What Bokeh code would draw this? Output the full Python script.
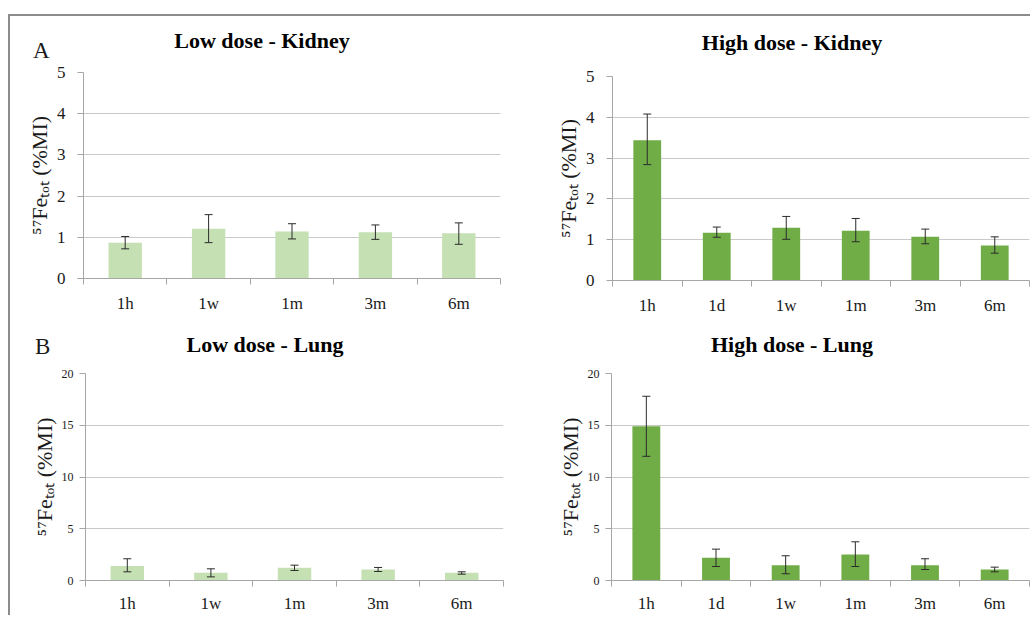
import math
from bokeh.plotting import figure
from bokeh.models import (Range1d, FixedTicker, CustomJSTickFormatter, Whisker,
                          TeeHead, ColumnDataSource, Spacer, Div)
from bokeh.layouts import column, row
from bokeh.embed import file_html
from bokeh.resources import INLINE

FONT = "Liberation Serif"
LIGHT = "#c5e0b3"
DARK = "#70ad47"
AXIS_GRAY = "#a6a6a6"
GRID_GRAY = "#c9c9c9"
TEXT = "#1a1a1a"

# ---------------- data ----------------
low_times = ["1h", "1w", "1m", "3m", "6m"]
high_times = ["1h", "1d", "1w", "1m", "3m", "6m"]

low_kidney_mean = [0.87, 1.21, 1.14, 1.12, 1.10]
low_kidney_upper = [1.02, 1.55, 1.33, 1.30, 1.35]
low_kidney_lower = [0.72, 0.87, 0.96, 0.95, 0.83]

high_kidney_mean = [3.44, 1.17, 1.29, 1.22, 1.07, 0.86]
high_kidney_upper = [4.08, 1.31, 1.57, 1.52, 1.26, 1.07]
high_kidney_lower = [2.84, 1.06, 1.01, 0.95, 0.90, 0.67]

low_lung_mean = [1.39, 0.74, 1.23, 1.06, 0.74]
low_lung_upper = [2.10, 1.13, 1.48, 1.26, 0.84]
low_lung_lower = [0.84, 0.35, 0.97, 0.87, 0.61]

high_lung_mean = [14.9, 2.19, 1.48, 2.52, 1.48, 1.06]
high_lung_upper = [17.8, 3.03, 2.39, 3.74, 2.10, 1.29]
high_lung_lower = [12.0, 1.35, 0.65, 1.35, 1.06, 0.84]

kidney_ticks = [0, 1, 2, 3, 4, 5]
lung_ticks = [0, 5, 10, 15, 20]

titles = ["Low dose - Kidney", "High dose - Kidney", "Low dose - Lung", "High dose - Lung"]
letters = ["A", "B"]

Y_LABEL = "\u2075\u2077Fe\u209c\u2092\u209c (%MI)"


def header(w, h, title, title_cx, title_base, letter=None, letter_x=0, letter_base=0):
    spans = []
    if letter:
        spans.append(
            f'<span style="position:absolute;left:{letter_x}px;top:{letter_base - 19.3:.1f}px;'
            f'font-family:\'{FONT}\';font-size:23px;line-height:23px;color:{TEXT};'
            f'white-space:nowrap;">{letter}</span>')
    spans.append(
        f'<span style="position:absolute;left:{title_cx}px;top:{title_base - 18.4:.1f}px;'
        f'transform:translateX(-50%);font-family:\'{FONT}\';font-weight:bold;font-size:22px;'
        f'line-height:22px;color:#000;white-space:nowrap;">{title}</span>')
    html = (f'<div style="position:relative;width:{w}px;height:{h}px;margin:0;padding:0;">'
            + "".join(spans) + "</div>")
    return Div(text=html, width=w, height=h, styles={"margin": "0", "padding": "0"})


def make_panel(cats, mean, upper, lower, color, ticks, w, h, ml, mr, mt, mb,
               ytick_size, ytick_standoff, xstandoff):
    n = len(cats)
    p = figure(width=w, height=h, x_range=Range1d(0, n), y_range=Range1d(ticks[0], ticks[-1]),
               output_backend="svg", toolbar_location=None, title=None,
               min_border_left=ml, min_border_right=mr, min_border_top=mt, min_border_bottom=mb)
    p.outline_line_color = None
    p.xgrid.grid_line_color = None
    p.ygrid.grid_line_color = GRID_GRAY
    p.ygrid.grid_line_width = 1

    xs = [i + 0.5 for i in range(n)]
    src = ColumnDataSource(dict(x=xs, top=mean, upper=upper, lower=lower))
    p.vbar(x="x", top="top", bottom=0, width=0.4, source=src,
           fill_color=color, line_color=None)
    wk = Whisker(source=src, base="x", upper="upper", lower="lower", dimension="height",
                 line_color="#2b2b2b", line_width=1,
                 upper_head=TeeHead(size=8, line_color="#2b2b2b", line_width=1),
                 lower_head=TeeHead(size=8, line_color="#2b2b2b", line_width=1))
    wk.level = "overlay"
    p.add_layout(wk)

    xa = p.xaxis[0]
    xa.ticker = FixedTicker(ticks=xs, minor_ticks=list(range(n + 1)))
    xa.formatter = CustomJSTickFormatter(args=dict(cats=cats),
                                         code="return cats[Math.floor(tick)];")
    xa.major_tick_out = 0
    xa.major_tick_in = 0
    xa.major_tick_line_color = None
    xa.minor_tick_out = 6
    xa.minor_tick_in = 0
    xa.minor_tick_line_color = AXIS_GRAY
    xa.axis_line_color = AXIS_GRAY
    xa.major_label_text_font = FONT
    xa.major_label_text_font_size = "17px"
    xa.major_label_text_color = TEXT
    xa.major_label_standoff = xstandoff

    ya = p.yaxis[0]
    ya.ticker = FixedTicker(ticks=ticks)
    ya.minor_tick_line_color = None
    ya.major_tick_out = 6
    ya.major_tick_in = 0
    ya.major_tick_line_color = AXIS_GRAY
    ya.axis_line_color = AXIS_GRAY
    ya.major_label_text_font = FONT
    ya.major_label_text_font_size = f"{ytick_size}px"
    ya.major_label_text_color = TEXT
    ya.major_label_standoff = ytick_standoff
    ya.axis_label = Y_LABEL
    ya.axis_label_text_font = FONT
    ya.axis_label_text_font_style = "normal"
    ya.axis_label_text_font_size = "22px"
    ya.axis_label_text_color = TEXT
    ya.axis_label_standoff = 2
    return p


HEAD = 46
h1 = header(510, HEAD, titles[0], 252, 32, letters[0], 23, 42)
p1 = make_panel(low_times, low_kidney_mean, low_kidney_upper, low_kidney_lower, LIGHT,
                kidney_ticks, 510, 255, 73, 20, 10, 39, 17, 12, 9)
h2 = header(510, HEAD, titles[1], 272, 34)
p2 = make_panel(high_times, high_kidney_mean, high_kidney_upper, high_kidney_lower, DARK,
                kidney_ticks, 510, 255, 92, 1, 14, 35, 17, 12, 9)
h3 = header(510, HEAD, titles[2], 255, 35, letters[1], 25, 37)
p3 = make_panel(low_times, low_lung_mean, low_lung_upper, low_lung_lower, LIGHT,
                lung_ticks, 510, 252, 75, 17, 10, 34, 12, 6, 7)
h4 = header(510, HEAD, titles[3], 272, 35)
p4 = make_panel(high_times, high_lung_mean, high_lung_upper, high_lung_lower, DARK,
                lung_ticks, 510, 252, 91, 1, 10, 34, 12, 6, 7)

inner = column(row(column(h1, p1), column(h2, p2)),
               row(column(h3, p3), column(h4, p4)),
               styles={"border-top": "2px solid #8c8c8c", "border-left": "2px solid #8c8c8c"})
layout = column(Spacer(width=10, height=14), row(Spacer(width=8, height=10), inner))

open("out.html", "w").write(file_html(layout, INLINE))
